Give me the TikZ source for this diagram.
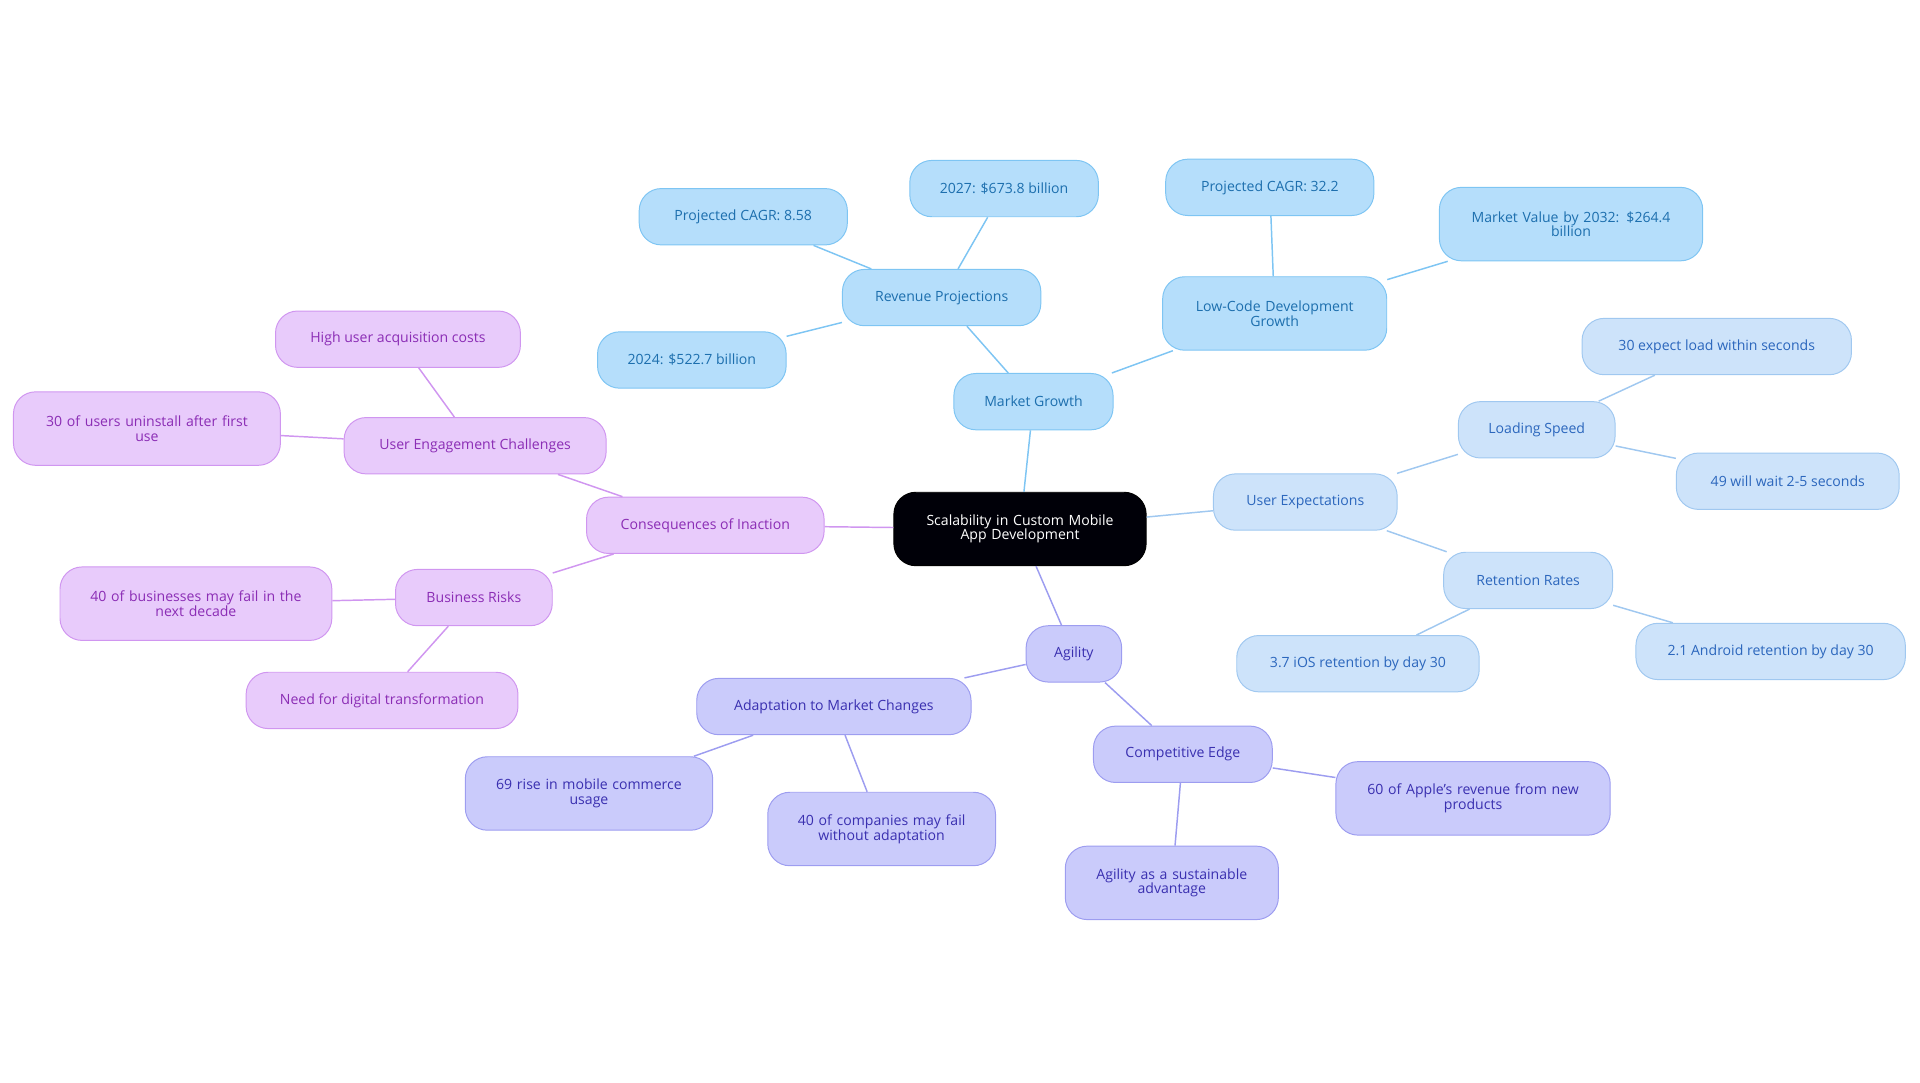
\documentclass[tikz,border=0pt]{standalone}
\usepackage{fontspec}
\setmainfont{Open Sans}
\definecolor{bF}{HTML}{B5DEFB}\definecolor{bD}{HTML}{7EC5F3}\definecolor{bT}{HTML}{1D6FAE}
\definecolor{lF}{HTML}{CDE3FA}\definecolor{lD}{HTML}{A0C8F0}\definecolor{lT}{HTML}{2C67BD}
\definecolor{aF}{HTML}{CACBFB}\definecolor{aD}{HTML}{9D9DF0}\definecolor{aT}{HTML}{3A30B0}
\definecolor{pF}{HTML}{E8CBFB}\definecolor{pD}{HTML}{D096F0}\definecolor{pT}{HTML}{8B2DB5}
\tikzset{
 nd/.style={rounded corners=18pt,draw,line width=0.8pt,align=center,font=\fontsize{11.5}{12}\selectfont,minimum height=46pt,inner sep=2pt},
 bn/.style={nd,fill=bF,draw=bD,text=bT}, be/.style={draw=bD,line width=1.2pt},
 ln/.style={nd,fill=lF,draw=lD,text=lT}, le/.style={draw=lD,line width=1.2pt},
 an/.style={nd,fill=aF,draw=aD,text=aT}, ae/.style={draw=aD,line width=1.2pt},
 pn/.style={nd,fill=pF,draw=pD,text=pT}, pe/.style={draw=pD,line width=1.2pt},
 tall/.style={minimum height=60pt}
}
\begin{document}
\begin{tikzpicture}[x=1pt,y=-1pt]
\useasboundingbox (0,0) rectangle (1568,884);
\node[nd,tall,fill=black!92!blue!40!black,draw=black,text=white,minimum width=206pt,text width=190pt] (c) at (833,432) {Scalability in Custom Mobile\\App Development};
% market growth
\node[bn,minimum width=130pt] (mg) at (844,328) {Market Growth};
\node[bn,minimum width=162pt] (rp) at (769,243) {Revenue Projections};
\node[bn,minimum width=170pt] (cg1) at (607,177) {Projected CAGR: 8.58};
\node[bn,minimum width=154pt] (y27) at (820,154) {2027: \$673.8 billion};
\node[bn,minimum width=154pt] (y24) at (565,294) {2024: \$522.7 billion};
\node[bn,tall,minimum width=183pt,text width=160pt] (lc) at (1041,256) {Low-Code Development\\Growth};
\node[bn,minimum width=170pt] (cg2) at (1037,153) {Projected CAGR: 32.2};
\node[bn,tall,minimum width=215pt,text width=190pt] (mv) at (1283,183) {Market Value by 2032: \$264.4\\billion};
% user expectations
\node[ln,minimum width=150pt] (ue) at (1066,410) {User Expectations};
\node[ln,minimum width=128pt] (ls) at (1255,351) {Loading Speed};
\node[ln,minimum width=220pt] (e30) at (1402,283) {30 expect load within seconds};
\node[ln,minimum width=182pt] (w49) at (1460,393) {49 will wait 2-5 seconds};
\node[ln,minimum width=138pt] (rr) at (1248,474) {Retention Rates};
\node[ln,minimum width=198pt] (ios) at (1109,542) {3.7 iOS retention by day 30};
\node[ln,minimum width=220pt] (and) at (1446,532) {2.1 Android retention by day 30};
% agility
\node[an,minimum width=78pt] (ag) at (877,534) {Agility};
\node[an,minimum width=224pt] (ad) at (681,577) {Adaptation to Market Changes};
\node[an,tall,minimum width=202pt,text width=180pt] (r69) at (481,648) {69 rise in mobile commerce\\usage};
\node[an,tall,minimum width=186pt,text width=170pt] (f40) at (720,677) {40 of companies may fail\\without adaptation};
\node[an,minimum width=146pt] (ce) at (966,616) {Competitive Edge};
\node[an,tall,minimum width=224pt,text width=200pt] (ap) at (1203,652) {60 of Apple's revenue from new\\products};
\node[an,tall,minimum width=174pt,text width=160pt] (sa) at (957,721) {Agility as a sustainable\\advantage};
% consequences
\node[pn,minimum width=194pt] (ci) at (576,429) {Consequences of Inaction};
\node[pn,minimum width=214pt] (uec) at (388,364) {User Engagement Challenges};
\node[pn,minimum width=200pt] (hu) at (325,277) {High user acquisition costs};
\node[pn,tall,minimum width=218pt,text width=190pt] (u30) at (120,350) {30 of users uninstall after first\\use};
\node[pn,minimum width=128pt] (br) at (387,488) {Business Risks};
\node[pn,tall,minimum width=222pt,text width=200pt] (b40) at (160,493) {40 of businesses may fail in the\\next decade};
\node[pn,minimum width=222pt] (nd) at (312,572) {Need for digital transformation};
% edges
\begin{scope}[on background layer/.style={}]
\end{scope}
\draw[be] (c) -- (mg); \draw[be] (mg) -- (rp); \draw[be] (rp) -- (cg1); \draw[be] (rp) -- (y27); \draw[be] (rp) -- (y24);
\draw[be] (mg) -- (lc); \draw[be] (lc) -- (cg2); \draw[be] (lc) -- (mv);
\draw[le] (c) -- (ue); \draw[le] (ue) -- (ls); \draw[le] (ls) -- (e30); \draw[le] (ls) -- (w49);
\draw[le] (ue) -- (rr); \draw[le] (rr) -- (ios); \draw[le] (rr) -- (and);
\draw[ae] (c) -- (ag); \draw[ae] (ag) -- (ad); \draw[ae] (ad) -- (r69); \draw[ae] (ad) -- (f40);
\draw[ae] (ag) -- (ce); \draw[ae] (ce) -- (ap); \draw[ae] (ce) -- (sa);
\draw[pe] (c) -- (ci); \draw[pe] (ci) -- (uec); \draw[pe] (uec) -- (hu); \draw[pe] (uec) -- (u30);
\draw[pe] (ci) -- (br); \draw[pe] (br) -- (b40); \draw[pe] (br) -- (nd);
\end{tikzpicture}
\end{document}
